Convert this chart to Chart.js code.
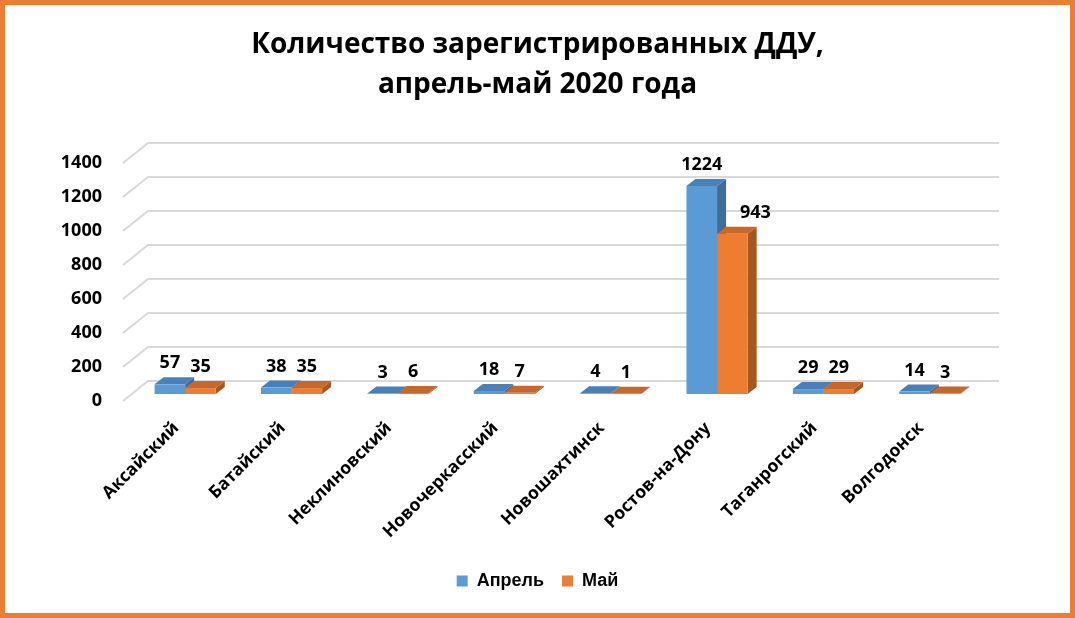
<!DOCTYPE html>
<html>
<head>
<meta charset="utf-8">
<script src="https://cdn.jsdelivr.net/npm/chart.js@4.4.1/dist/chart.umd.min.js"></script>
<style>
  html, body { margin: 0; padding: 0; background: #fff; }
  #wrap { width: 1075px; height: 618px; }
</style>
</head>
<body>
<div id="wrap"><canvas id="chart" width="1075" height="618"></canvas></div>
<script>
const categories = ["Аксайский", "Батайский", "Неклиновский", "Новочеркасский", "Новошахтинск", "Ростов-на-Дону", "Таганрогский", "Волгодонск"];
const aprilValues = [57, 38, 3, 18, 4, 1224, 29, 14];
const mayValues = [35, 35, 6, 7, 1, 943, 29, 3];
const yTickValues = [0, 200, 400, 600, 800, 1000, 1200, 1400];

// 3d look: bars sit a bit behind the front plane, back wall further back
const BAR_DX = 9, BAR_DY = 7;
const WALL_DX = 25, WALL_DY = 20;

const bar3d = {
  id: "bar3d",
  beforeDraw(chart) {
    const { ctx, width, height } = chart;
    ctx.save();
    ctx.fillStyle = "#fff";
    ctx.fillRect(0, 0, width, height);
    ctx.strokeStyle = "#ED7D31";
    ctx.lineWidth = 5;
    ctx.strokeRect(2.5, 2.5, width - 5, height - 5);
    ctx.restore();
  },
  beforeDatasetsDraw(chart) {
    const { ctx, chartArea: a, scales: { y } } = chart;
    ctx.save();
    ctx.strokeStyle = "#D9D9D9";
    ctx.lineWidth = 2;
    y.ticks.forEach((t) => {
      const py = y.getPixelForValue(t.value);
      ctx.beginPath();
      ctx.moveTo(a.left, py);
      ctx.lineTo(a.left + WALL_DX, py - WALL_DY);
      ctx.lineTo(a.right + WALL_DX, py - WALL_DY);
      ctx.stroke();
    });
    ctx.restore();

    // left open on purpose, closed in afterDatasetsDraw, so the fronts get shifted too
    ctx.save();
    ctx.translate(BAR_DX, -BAR_DY);
    chart.data.datasets.forEach((ds, i) => {
      chart.getDatasetMeta(i).data.forEach((bar) => {
        const { x, y: top, base, width } = bar.getProps(["x", "y", "base", "width"], true);
        const l = x - width / 2, r = x + width / 2;
        ctx.fillStyle = ds.sideColor;
        ctx.beginPath();
        ctx.moveTo(r, top);
        ctx.lineTo(r + BAR_DX, top - BAR_DY);
        ctx.lineTo(r + BAR_DX, base - BAR_DY);
        ctx.lineTo(r, base);
        ctx.closePath();
        ctx.fill();
        ctx.fillStyle = ds.topColor;
        ctx.beginPath();
        ctx.moveTo(l, top);
        ctx.lineTo(r, top);
        ctx.lineTo(r + BAR_DX, top - BAR_DY);
        ctx.lineTo(l + BAR_DX, top - BAR_DY);
        ctx.closePath();
        ctx.fill();
      });
    });
  },
  afterDatasetsDraw(chart) {
    const { ctx } = chart;
    ctx.restore();

    ctx.save();
    ctx.font = "bold 18px 'Open Sans'";
    ctx.fillStyle = "#000";
    ctx.textAlign = "center";
    ctx.textBaseline = "middle";
    const prev = chart.getDatasetMeta(0).data;
    chart.data.datasets.forEach((ds, i) => {
      chart.getDatasetMeta(i).data.forEach((bar, j) => {
        const { x, y: top } = bar.getProps(["x", "y"], true);
        let lx = x + BAR_DX;
        const ly = top - BAR_DY - 21;
        // push label right when the neighbour bar is in the way
        if (i > 0 && prev[j].y < ly) lx += 23;
        ctx.fillText(ds.data[j], lx, ly);
      });
    });
    ctx.restore();
  },
};

new Chart(document.getElementById("chart"), {
  type: "bar",
  data: {
    labels: categories,
    datasets: [
      {
        label: "Апрель",
        data: aprilValues,
        backgroundColor: "#5B9BD5",
        topColor: "#4A80B8",
        sideColor: "#3E6C9C",
        clip: false,
      },
      {
        label: "Май",
        data: mayValues,
        backgroundColor: "#ED7D31",
        topColor: "#C8672A",
        sideColor: "#A9561F",
        clip: false,
      },
    ],
  },
  options: {
    responsive: false,
    animation: false,
    layout: { padding: { left: 0, right: 0, top: 0, bottom: 18 } },
    datasets: {
      bar: { barPercentage: 1, categoryPercentage: 0.575 },
    },
    scales: {
      y: {
        min: 0,
        max: 1400,
        afterBuildTicks: (scale) => {
          scale.ticks = yTickValues.map((v) => ({ value: v }));
        },
        afterFit: (scale) => {
          scale.width = 123;
        },
        grid: { display: false, drawTicks: false },
        border: { display: false },
        ticks: {
          color: "#000",
          padding: 21,
          callback: (v) => String(v),
          font: { family: "'Open Sans'", size: 18, weight: "bold" },
        },
      },
      // empty axis on the right, only to keep room for the back wall
      yRight: {
        position: "right",
        grid: { display: false, drawTicks: false },
        border: { display: false },
        ticks: { display: false },
        afterFit: (scale) => {
          scale.width = 101;
        },
      },
      x: {
        afterFit: (scale) => {
          scale.height = 153;
        },
        grid: { display: false, drawTicks: false },
        border: { display: false },
        ticks: {
          color: "#000",
          padding: 17,
          minRotation: 45,
          maxRotation: 45,
          font: { family: "'Open Sans'", size: 17.5, weight: "bold" },
        },
      },
    },
    plugins: {
      title: {
        display: true,
        text: ["Количество зарегистрированных ДДУ,", "апрель-май 2020 года"],
        color: "#000",
        padding: { top: 25, bottom: 58 },
        font: { family: "'Open Sans'", size: 28, weight: "bold", lineHeight: 1.43 },
      },
      legend: {
        position: "bottom",
        labels: {
          color: "#000",
          boxWidth: 11,
          boxHeight: 11,
          padding: 18,
          font: { family: "'Liberation Sans'", size: 18, weight: "bold" },
        },
      },
      tooltip: { enabled: false },
    },
  },
  plugins: [bar3d],
});
</script>
</body>
</html>
